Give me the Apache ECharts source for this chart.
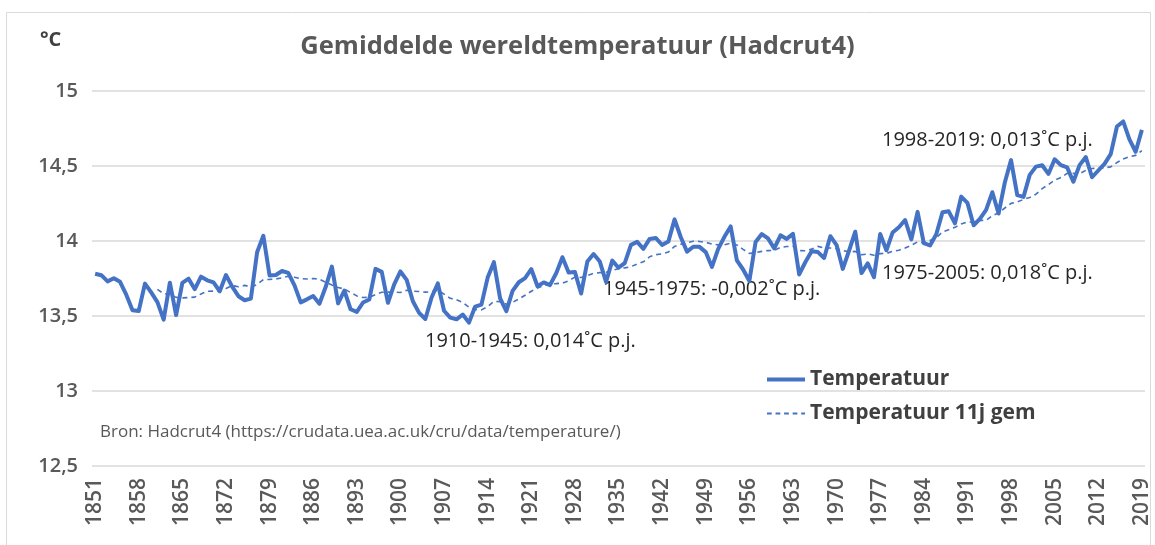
<!DOCTYPE html>
<html>
<head>
<meta charset="utf-8">
<script src="https://cdn.jsdelivr.net/npm/echarts@6/dist/echarts.min.js"></script>
<style>
html,body{margin:0;padding:0;background:#fff;}
#chart{width:1155px;height:545px;}
</style>
</head>
<body>
<div id="chart"></div>
<script>
// Years on the category axis
const firstYear = 1851;
const lastYear = 2019;
const years = [];
for (let y = firstYear; y <= lastYear; y++) years.push(String(y));

// Annual global mean temperature (°C)
const temperatuur = [
  13.782, 13.772, 13.731, 13.752, 13.728, 13.642, 13.539, 13.533, 13.716, 13.657,
  13.593, 13.476, 13.722, 13.506, 13.721, 13.749, 13.679, 13.762, 13.738, 13.724,
  13.665, 13.773, 13.696, 13.632, 13.605, 13.616, 13.925, 14.035, 13.770, 13.773,
  13.800, 13.787, 13.704, 13.591, 13.611, 13.633, 13.582, 13.693, 13.829, 13.584,
  13.670, 13.545, 13.527, 13.590, 13.610, 13.814, 13.794, 13.588, 13.711, 13.797,
  13.741, 13.598, 13.521, 13.480, 13.623, 13.717, 13.535, 13.489, 13.478, 13.510,
  13.456, 13.563, 13.576, 13.756, 13.859, 13.617, 13.532, 13.667, 13.725, 13.753,
  13.813, 13.698, 13.724, 13.706, 13.785, 13.892, 13.790, 13.794, 13.650, 13.863,
  13.913, 13.863, 13.727, 13.869, 13.822, 13.853, 13.974, 13.994, 13.948, 14.014,
  14.020, 13.973, 13.996, 14.144, 14.025, 13.929, 13.962, 13.961, 13.926, 13.827,
  13.948, 14.028, 14.097, 13.871, 13.810, 13.733, 13.993, 14.046, 14.017, 13.951,
  14.038, 14.014, 14.048, 13.777, 13.860, 13.932, 13.926, 13.887, 14.032, 13.973,
  13.814, 13.935, 14.062, 13.786, 13.851, 13.759, 14.047, 13.938, 14.057, 14.092,
  14.140, 14.011, 14.194, 13.986, 13.970, 14.045, 14.192, 14.198, 14.118, 14.296,
  14.254, 14.105, 14.148, 14.208, 14.325, 14.183, 14.390, 14.539, 14.306, 14.294,
  14.441, 14.496, 14.505, 14.447, 14.545, 14.506, 14.491, 14.395, 14.506, 14.560,
  14.425, 14.470, 14.514, 14.579, 14.763, 14.797, 14.677, 14.595, 14.741
];

// 11-year moving average (dashed); starts in 1861
const gem11j = [
  null, null, null, null, null, null, null, null, null, null,
  13.677, 13.649, 13.644, 13.624, 13.621, 13.623, 13.626, 13.647, 13.665, 13.666,
  13.667, 13.683, 13.703, 13.695, 13.704, 13.694, 13.710, 13.743, 13.744, 13.747,
  13.754, 13.765, 13.758, 13.749, 13.747, 13.750, 13.746, 13.725, 13.707, 13.690,
  13.680, 13.657, 13.634, 13.623, 13.625, 13.643, 13.658, 13.659, 13.660, 13.657,
  13.672, 13.665, 13.663, 13.659, 13.662, 13.671, 13.646, 13.618, 13.608, 13.590,
  13.559, 13.543, 13.541, 13.562, 13.597, 13.596, 13.579, 13.591, 13.613, 13.638,
  13.665, 13.687, 13.702, 13.714, 13.716, 13.719, 13.735, 13.759, 13.757, 13.770,
  13.784, 13.789, 13.792, 13.805, 13.815, 13.821, 13.829, 13.847, 13.861, 13.895,
  13.909, 13.914, 13.926, 13.964, 13.978, 13.988, 13.998, 13.997, 13.991, 13.980,
  13.974, 13.974, 13.986, 13.974, 13.944, 13.917, 13.923, 13.931, 13.936, 13.938,
  13.957, 13.963, 13.965, 13.936, 13.935, 13.946, 13.964, 13.954, 13.953, 13.949,
  13.936, 13.927, 13.931, 13.908, 13.914, 13.905, 13.916, 13.917, 13.932, 13.938,
  13.953, 13.971, 13.994, 13.987, 14.004, 14.022, 14.061, 14.075, 14.091, 14.113,
  14.128, 14.124, 14.137, 14.138, 14.169, 14.188, 14.220, 14.251, 14.261, 14.277,
  14.290, 14.312, 14.349, 14.376, 14.406, 14.423, 14.451, 14.451, 14.448, 14.471,
  14.483, 14.486, 14.488, 14.494, 14.523, 14.546, 14.562, 14.571, 14.603
];

const titleText = 'Gemiddelde wereldtemperatuur (Hadcrut4)';
const unitText = '°C';
const sourceText = 'Bron: Hadcrut4 (https://crudata.uea.ac.uk/cru/data/temperature/)';
const trendLabels = [
  '1910-1945: 0,014˚C p.j.',
  '1945-1975: -0,002˚C p.j.',
  '1975-2005: 0,018˚C p.j.',
  '1998-2019: 0,013˚C p.j.'
];

const FONT = 'Open Sans';
const BLUE = '#4472C4';
const chart = echarts.init(document.getElementById('chart'), null, {renderer: 'canvas'});

const annStyle = {fill: '#262626', font: '20px "Open Sans"'};
const legendText = {fontFamily: FONT, fontSize: 21, color: '#404040', fontWeight: 'bold'};

chart.setOption({
  animation: false,
  backgroundColor: '#fff',
  textStyle: {fontFamily: FONT},
  title: {
    text: titleText,
    left: 'center',
    top: 29,
    textStyle: {fontFamily: FONT, fontSize: 25.5, fontWeight: 'bold', color: '#595959'}
  },
  grid: {left: 92, right: 10, top: 91, bottom: 79, containLabel: false},
  legend: [
    {
      left: 762,
      top: 364,
      itemWidth: 38,
      itemHeight: 4,
      itemGap: 10,
      textStyle: legendText,
      data: [{name: 'Temperatuur', icon: 'path://M0,0H40V4H0Z', itemStyle: {color: BLUE}}]
    },
    {
      left: 762,
      top: 398,
      itemWidth: 38,
      itemHeight: 2,
      itemGap: 10,
      textStyle: legendText,
      data: [{name: 'Temperatuur 11j gem', icon: 'path://M0,0H5V2H0Z M9,0H14V2H9Z M18,0H23V2H18Z M27,0H32V2H27Z M36,0H40V2H36Z', itemStyle: {color: BLUE}}]
    }
  ],
  xAxis: {
    type: 'category',
    data: years,
    boundaryGap: true,
    axisLine: {show: false},
    axisTick: {show: false},
    axisLabel: {
      interval: 6,
      rotate: 90,
      margin: 12,
      fontFamily: FONT,
      fontSize: 21,
      fontWeight: 600,
      color: '#595959'
    },
    splitLine: {show: false}
  },
  yAxis: {
    type: 'value',
    min: 12.5,
    max: 15,
    interval: 0.5,
    axisLine: {show: false},
    axisTick: {show: false},
    axisLabel: {
      margin: 14,
      fontFamily: FONT,
      fontSize: 20,
      fontWeight: 600,
      color: '#595959',
      formatter: v => String(v).replace('.', ',')
    },
    splitLine: {show: true, lineStyle: {color: '#d9d9d9', width: 1.5}}
  },
  series: [
    {
      name: 'Temperatuur',
      type: 'line',
      data: temperatuur,
      symbol: 'none',
      showSymbol: false,
      itemStyle: {color: BLUE},
      lineStyle: {color: BLUE, width: 4, join: 'round'},
      z: 3
    },
    {
      name: 'Temperatuur 11j gem',
      type: 'line',
      data: gem11j,
      symbol: 'none',
      showSymbol: false,
      itemStyle: {color: BLUE},
      lineStyle: {color: BLUE, width: 1.6, type: [5, 4]},
      z: 2
    }
  ],
  graphic: [
    {type: 'rect', shape: {x: 6.5, y: 12.5, width: 1144, height: 540}, style: {fill: 'none', stroke: '#d9d9d9', lineWidth: 1}, silent: true},
    {type: 'text', left: 40, top: 30, style: {text: unitText, fill: '#404040', font: 'bold 20px "Open Sans"'}},
    {type: 'text', left: 100, top: 424, style: {text: sourceText, fill: '#595959', font: '17px "Open Sans"'}},
    {type: 'text', left: 425, top: 331, style: Object.assign({text: trendLabels[0]}, annStyle)},
    {type: 'text', left: 603, top: 279, style: Object.assign({text: trendLabels[1]}, annStyle)},
    {type: 'text', left: 882, top: 263, style: Object.assign({text: trendLabels[2]}, annStyle)},
    {type: 'text', left: 882, top: 130, style: Object.assign({text: trendLabels[3]}, annStyle)}
  ]
});
</script>
</body>
</html>
